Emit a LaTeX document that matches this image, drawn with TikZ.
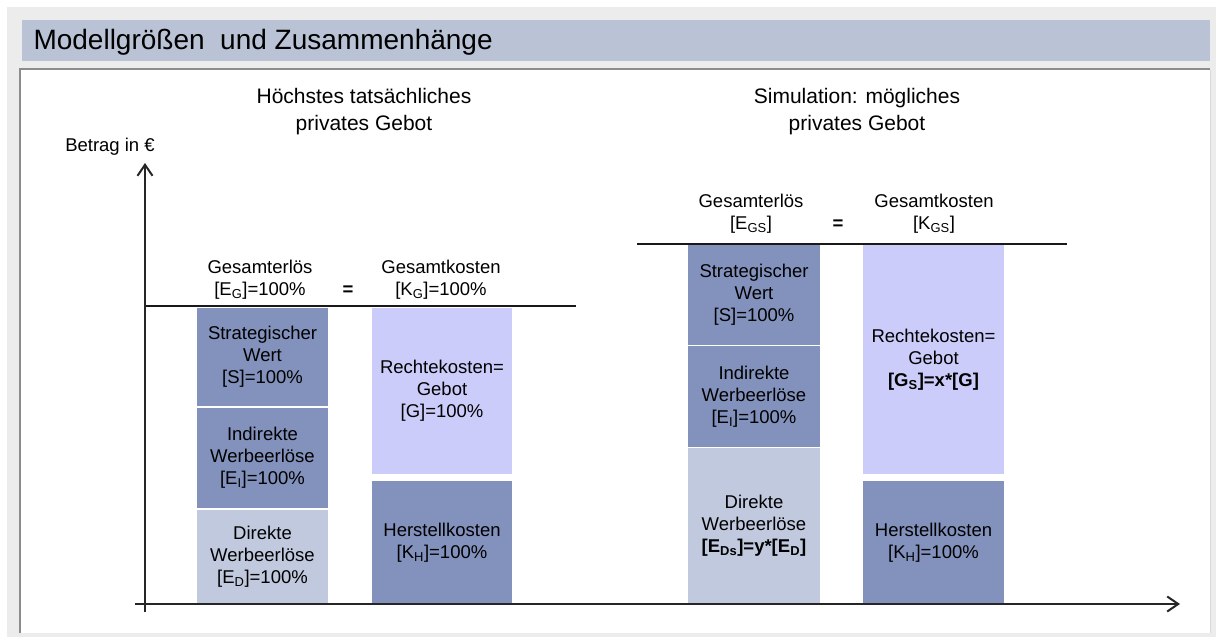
\documentclass[tikz,border=0pt]{standalone}
\usepackage{fontspec}
\setmainfont{Liberation Sans}
\usetikzlibrary{arrows.meta}
\definecolor{blockdark}{RGB}{131,146,189}
\definecolor{blocklila}{RGB}{204,204,250}
\definecolor{blockpale}{RGB}{193,201,222}
\definecolor{titlebar}{RGB}{186,194,214}
\definecolor{framegray}{RGB}{236,236,236}
\tikzset{
    block/.style={draw=white, line width=1.2pt, align=center, inner sep=0pt,
      font=\fontsize{18.5}{22}\selectfont},
    sumtext/.style={align=center, font=\fontsize{18.5}{22}\selectfont},
    heading/.style={align=center, font=\fontsize{21}{27}\selectfont},
    axis/.style={line width=2pt, draw=black!85},
    level/.style={line width=2pt, draw=black!90},
}

\begin{document}
\begin{tikzpicture}[x=1pt, y=-1pt]
    \useasboundingbox (0,0) rectangle (1216,637);
    \fill[white] (0,0) rectangle (1216,637);
    \fill[framegray] (7,7) rectangle (1216,637);
    \fill[titlebar] (22,20) rectangle (1210,61);
    \fill[white] (20,69) rectangle (1210,633);
    \draw[black!45, line width=2pt] (20,633) -- (20,69) -- (1210,69);
    \draw[black!15, line width=0.8pt] (1210,70) -- (1210,633);
    \node[anchor=west, font=\fontsize{28}{32}\selectfont] (title) at (30,42) {Modellgrößen\ \ und Zusammenhänge};

    \node[heading] (headL) at (364,112) {Höchstes tatsächliches\\privates Gebot};
    \node[heading] (headR) at (857,112) {Simulation: mögliches\\privates Gebot};
    \node[sumtext] (betrag) at (110,147) {Betrag in €};

    % tatsaechliches Gebot
    \node[sumtext] (erlL) at (260,280) {Gesamterlös\\{[E\textsubscript{G}]=100\%}};
    \node[sumtext, font=\fontsize{18.5}{22}\bfseries] (eqL) at (348,291) {=};
    \node[sumtext] (kostL) at (441,280) {Gesamtkosten\\{[K\textsubscript{G}]=100\%}};
    \node[block, fill=blockdark, minimum width=133pt, minimum height=100pt] (sL) at (262.5,357)
      {Strategischer\\Wert\\{[S]=100\%}};
    \node[block, fill=blockdark, minimum width=133pt, minimum height=102pt] (eiL) at (262.5,458)
      {Indirekte\\Werbeerlöse\\{[E\textsubscript{I}]=100\%}};
    \node[block, fill=blockpale, minimum width=133pt, minimum height=95pt] (edL) at (262.5,556.5)
      {Direkte\\Werbeerlöse\\{[E\textsubscript{D}]=100\%}};
    \node[block, fill=blocklila, minimum width=142pt, minimum height=168pt] (rkL) at (442,391)
      {Rechtekosten=\\Gebot\\{[G]=100\%}};
    \node[block, fill=blockdark, minimum width=142pt, minimum height=124pt] (hkL) at (442,542.5)
      {Herstellkosten\\{[K\textsubscript{H}]=100\%}};

    % simuliertes Gebot
    \node[sumtext] (erlR) at (751,214) {Gesamterlös\\{[E\textsubscript{GS}]}};
    \node[sumtext, font=\fontsize{18.5}{22}\bfseries] (eqR) at (838,225) {=};
    \node[sumtext] (kostR) at (934,214) {Gesamtkosten\\{[K\textsubscript{GS}]}};
    \node[block, fill=blockdark, minimum width=133pt, minimum height=101pt] (sR) at (754,295)
      {Strategischer\\Wert\\{[S]=100\%}};
    \node[block, fill=blockdark, minimum width=133pt, minimum height=102pt] (eiR) at (754,396.5)
      {Indirekte\\Werbeerlöse\\{[E\textsubscript{I}]=100\%}};
    \node[block, fill=blockpale, minimum width=133pt, minimum height=157pt] (edR) at (754,526)
      {Direkte\\Werbeerlöse\\{\bfseries[E\textsubscript{Ds}]=y*[E\textsubscript{D}]}};
    \node[block, fill=blocklila, minimum width=143pt, minimum height=230pt] (rkR) at (933.5,359.5)
      {Rechtekosten=\\Gebot\\{\bfseries[G\textsubscript{S}]=x*[G]}};
    \node[block, fill=blockdark, minimum width=143pt, minimum height=124pt] (hkR) at (933.5,542.5)
      {Herstellkosten\\{[K\textsubscript{H}]=100\%}};

    % Linien und Achsen
    \coordinate (levelLa) at (145,306);
    \coordinate (levelLb) at (576,306);
    \coordinate (levelRa) at (637,244);
    \coordinate (levelRb) at (1067,244);
    \draw[level] (levelLa) -- (levelLb);
    \draw[level] (levelRa) -- (levelRb);
    \coordinate (yfoot) at (145,612);
    \coordinate (ytip) at (145,163);
    \coordinate (xfoot) at (135,604);
    \coordinate (xtip) at (1180,604);
    \draw[axis, -{Straight Barb[length=11pt, width=15pt]}] (yfoot) -- (ytip);
    \draw[axis, -{Straight Barb[length=11pt, width=15pt]}] (xfoot) -- (xtip);
\end{tikzpicture}
\end{document}
